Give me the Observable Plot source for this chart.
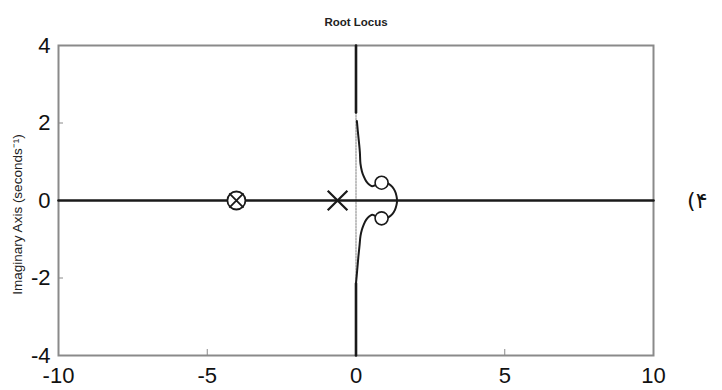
<!DOCTYPE html>
<html>
<head>
<meta charset="utf-8">
<script src="https://cdn.jsdelivr.net/npm/d3@7"></script>
<script src="https://cdn.jsdelivr.net/npm/@observablehq/plot@0.6"></script>
<style>
  html, body { margin: 0; padding: 0; background: #fff; }
  #chart svg { display: block; }
</style>
</head>
<body>
<div id="chart"></div>
<script>
// ---- data ----
const xTicks = [-10, -5, 0, 5, 10];
const yTicks = [-4, -2, 0, 2, 4];
const realAxis = [{x: -10, y: 0}, {x: 10, y: 0}];
// imaginary-axis asymptote pieces (solid ends, dotted middle)
const imagTop = [{x: 0, y: 4}, {x: 0, y: 2.27}];
const imagBottom = [{x: 0, y: -2.14}, {x: 0, y: -4}];
const imagDotted = [{x: 0, y: 2.27}, {x: 0, y: -2.14}];
// branches from asymptotes to the complex zeros
const branchUpX = [0.03, 0.06, 0.10, 0.13, 0.15, 0.20, 0.26, 0.34, 0.43, 0.54, 0.63, 0.72];
const branchUpY = [2.05, 1.80, 1.50, 1.25, 0.95, 0.75, 0.62, 0.50, 0.42, 0.37, 0.39, 0.43];
const branchLoX = [0.00, 0.04, 0.08, 0.12, 0.15, 0.20, 0.26, 0.34, 0.43, 0.54, 0.63, 0.72];
const branchLoY = [-2.14, -1.80, -1.45, -1.15, -0.92, -0.75, -0.62, -0.50, -0.42, -0.37, -0.39, -0.43];
// arc from zeros to real-axis break point
const arcX = [0.98, 1.10, 1.22, 1.31, 1.36, 1.38, 1.36, 1.31, 1.22, 1.10, 0.98];
const arcY = [0.47, 0.43, 0.35, 0.24, 0.12, 0.00, -0.12, -0.24, -0.35, -0.43, -0.47];
const poles = [{x: -0.62, y: 0}];
const poleZero = [{x: -4.02, y: 0}];
const zeros = [{x: 0.86, y: 0.46}, {x: 0.86, y: -0.46}];

const up = branchUpX.map((x, i) => ({x, y: branchUpY[i]}));
const lo = branchLoX.map((x, i) => ({x, y: branchLoY[i]}));
const arc = arcX.map((x, i) => ({x, y: arcY[i]}));

const W = 722, H = 390, mL = 58, mR = 69, mT = 45, mB = 35;
const fw = W - mL - mR, fh = H - mT - mB;
const font = "Liberation Sans, Arial, sans-serif";

const chart = Plot.plot({
  width: W, height: H,
  marginLeft: mL, marginRight: mR, marginTop: mT, marginBottom: mB,
  style: {fontFamily: font, background: "#fff", overflow: "visible"},
  x: {domain: [-10, 10]},
  y: {domain: [-4, 4]},
  marks: [
    Plot.frame({stroke: "#8a8a8a", strokeWidth: 2}),
    Plot.tickY(yTicks, {y: d => d, stroke: "#8a8a8a", strokeWidth: 1, insetRight: fw - 5}),
    Plot.tickX(xTicks, {x: d => d, stroke: "#8a8a8a", strokeWidth: 1, insetTop: fh - 6}),
    Plot.axisY(yTicks, {tickSize: 0, tickPadding: 8, fontSize: 22, label: null, fill: "#111", tickFormat: d => String(d)}),
    Plot.axisX(xTicks, {tickSize: 0, tickPadding: 12, fontSize: 22, label: null, fill: "#111", tickFormat: d => String(d)}),
    Plot.line(imagDotted, {x: "x", y: "y", stroke: "#aaa", strokeWidth: 1.5, strokeDasharray: "1.5,1.5"}),
    Plot.line(realAxis, {x: "x", y: "y", stroke: "#1a1a1a", strokeWidth: 2.6}),
    Plot.line(imagTop, {x: "x", y: "y", stroke: "#1a1a1a", strokeWidth: 2.6}),
    Plot.line(imagBottom, {x: "x", y: "y", stroke: "#1a1a1a", strokeWidth: 2.6}),
    Plot.line(up, {x: "x", y: "y", stroke: "#1a1a1a", strokeWidth: 2, curve: "catmull-rom"}),
    Plot.line(lo, {x: "x", y: "y", stroke: "#1a1a1a", strokeWidth: 2, curve: "catmull-rom"}),
    Plot.line(arc, {x: "x", y: "y", stroke: "#1a1a1a", strokeWidth: 2, curve: "catmull-rom"}),
    Plot.dot(zeros, {x: "x", y: "y", r: 6.5, fill: "#fff", stroke: "#1a1a1a", strokeWidth: 1.6}),
    Plot.dot(poleZero, {x: "x", y: "y", r: 9, fill: "#fff", stroke: "#1a1a1a", strokeWidth: 1.8}),
    Plot.dot(poleZero, {x: "x", y: "y", symbol: "times", r: 6.5, stroke: "#1a1a1a", strokeWidth: 1.8}),
    Plot.dot(poles, {x: "x", y: "y", symbol: "times", r: 9, stroke: "#1a1a1a", strokeWidth: 2.2}),
    Plot.text(["Root Locus"], {frameAnchor: "top", dy: -28, fontSize: 11.5, fontWeight: "bold", fill: "#222"}),
    Plot.text(["Imaginary Axis (seconds⁻¹)"], {frameAnchor: "left", textAnchor: "middle", rotate: -90, dx: -41, dy: 14, fontSize: 13.5, fill: "#222"}),
    Plot.text(["(۴"], {frameAnchor: "right", dx: 54, fontSize: 22, fill: "#111", fontFamily: "DejaVu Sans"})
  ]
});
document.getElementById("chart").append(chart);
</script>
</body>
</html>
